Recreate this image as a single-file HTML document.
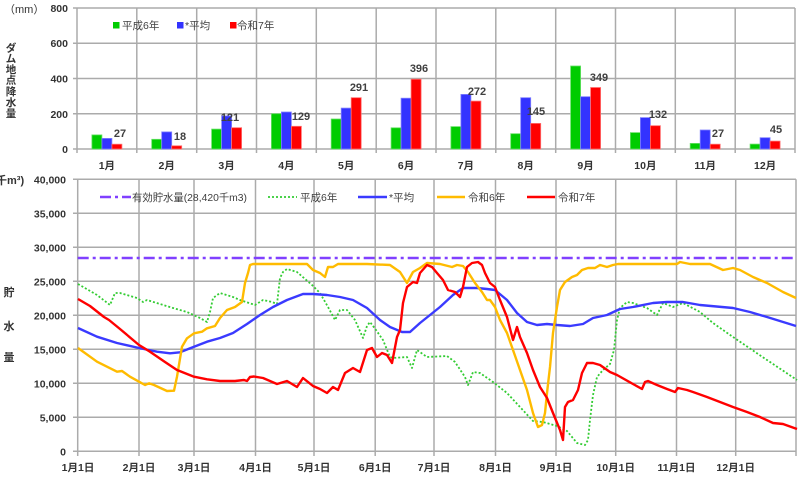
<!DOCTYPE html>
<html><head><meta charset="utf-8"><style>
html,body{margin:0;padding:0;background:#fff;}
svg{display:block;}
text{font-family:"Liberation Sans","Noto Sans CJK JP",sans-serif;}
.b{font-weight:bold;fill:#333;}
.lg{fill:#404040;font-size:10.5px;}
</style></head><body>
<svg width="800" height="477" viewBox="0 0 800 477" xmlns="http://www.w3.org/2000/svg">
<!-- ===== TOP BAR CHART ===== -->
<g stroke="#ABABAB" stroke-width="1.5" fill="none">
<line x1="73" y1="8" x2="795" y2="8"/>
<line x1="73" y1="43.25" x2="795" y2="43.25"/>
<line x1="73" y1="78.5" x2="795" y2="78.5"/>
<line x1="73" y1="113.75" x2="795" y2="113.75"/>
<line x1="73" y1="149" x2="795" y2="149"/>
<line x1="77" y1="8" x2="77" y2="153"/>
<line x1="136.8" y1="8" x2="136.8" y2="153"/>
<line x1="196.7" y1="8" x2="196.7" y2="153"/>
<line x1="256.5" y1="8" x2="256.5" y2="153"/>
<line x1="316.3" y1="8" x2="316.3" y2="153"/>
<line x1="376.2" y1="8" x2="376.2" y2="153"/>
<line x1="436" y1="8" x2="436" y2="153"/>
<line x1="495.8" y1="8" x2="495.8" y2="153"/>
<line x1="555.7" y1="8" x2="555.7" y2="153"/>
<line x1="615.5" y1="8" x2="615.5" y2="153"/>
<line x1="675.3" y1="8" x2="675.3" y2="153"/>
<line x1="735.2" y1="8" x2="735.2" y2="153"/>
<line x1="795" y1="8" x2="795" y2="153"/>
</g>
<!-- bars -->
<g stroke-width="0.8">
<g fill="#00CC00" stroke="#66E066">
<rect x="91.9" y="134.9" width="10" height="14.1"/>
<rect x="151.7" y="139.3" width="10" height="9.7"/>
<rect x="211.6" y="129.1" width="10" height="19.9"/>
<rect x="271.4" y="113.7" width="10" height="35.3"/>
<rect x="331.2" y="119" width="10" height="30"/>
<rect x="391.1" y="127.8" width="10" height="21.2"/>
<rect x="450.9" y="126.6" width="10" height="22.4"/>
<rect x="510.7" y="133.7" width="10" height="15.3"/>
<rect x="570.6" y="66" width="10" height="83"/>
<rect x="630.4" y="132.6" width="10" height="16.4"/>
<rect x="690.2" y="143.4" width="10" height="5.6"/>
<rect x="750.1" y="144.1" width="10" height="4.9"/>
</g>
<g fill="#3333FF" stroke="#8080FF">
<rect x="101.9" y="138.4" width="10" height="10.6"/>
<rect x="161.7" y="131.9" width="10" height="17.1"/>
<rect x="221.6" y="115.9" width="10" height="33.1"/>
<rect x="281.4" y="112" width="10" height="37"/>
<rect x="341.2" y="108.1" width="10" height="40.9"/>
<rect x="401.1" y="98.2" width="10" height="50.8"/>
<rect x="460.9" y="94.4" width="10" height="54.6"/>
<rect x="520.7" y="97.7" width="10" height="51.3"/>
<rect x="580.6" y="96.7" width="10" height="52.3"/>
<rect x="640.4" y="117.6" width="10" height="31.4"/>
<rect x="700.2" y="130" width="10" height="19"/>
<rect x="760.1" y="137.7" width="10" height="11.3"/>
</g>
<g fill="#FF0000" stroke="#FF7070">
<rect x="111.9" y="144.2" width="10" height="4.8"/>
<rect x="171.7" y="145.8" width="10" height="3.2"/>
<rect x="231.6" y="127.7" width="10" height="21.3"/>
<rect x="291.4" y="126.3" width="10" height="22.7"/>
<rect x="351.2" y="97.7" width="10" height="51.3"/>
<rect x="411.1" y="79.2" width="10" height="69.8"/>
<rect x="470.9" y="101.1" width="10" height="47.9"/>
<rect x="530.7" y="123.4" width="10" height="25.6"/>
<rect x="590.6" y="87.5" width="10" height="61.5"/>
<rect x="650.4" y="125.7" width="10" height="23.3"/>
<rect x="710.2" y="144.2" width="10" height="4.8"/>
<rect x="770.1" y="141.1" width="10" height="7.9"/>
</g>
</g>
<!-- data labels -->
<g class="b" font-size="11" text-anchor="middle" style="fill:#404040">
<text x="120" y="137">27</text>
<text x="180" y="140">18</text>
<text x="230" y="121">121</text>
<text x="301" y="120">129</text>
<text x="359" y="91">291</text>
<text x="419" y="72">396</text>
<text x="477" y="95">272</text>
<text x="536" y="115">145</text>
<text x="599" y="81">349</text>
<text x="658" y="118">132</text>
<text x="718" y="137">27</text>
<text x="776" y="133">45</text>
</g>
<!-- y labels top -->
<g class="b" font-size="10.5" text-anchor="end">
<text x="68" y="12">800</text>
<text x="68" y="47">600</text>
<text x="68" y="82.5">400</text>
<text x="68" y="118">200</text>
<text x="68" y="153">0</text>
</g>
<!-- month labels -->
<g class="b" font-size="10.5" text-anchor="middle">
<text x="106.9" y="169">1月</text>
<text x="166.7" y="169">2月</text>
<text x="226.6" y="169">3月</text>
<text x="286.4" y="169">4月</text>
<text x="346.2" y="169">5月</text>
<text x="406.1" y="169">6月</text>
<text x="465.9" y="169">7月</text>
<text x="525.7" y="169">8月</text>
<text x="585.6" y="169">9月</text>
<text x="645.4" y="169">10月</text>
<text x="705.2" y="169">11月</text>
<text x="765.1" y="169">12月</text>
</g>
<text x="4" y="13" font-size="11" fill="#333">（mm）</text>
<g class="b" font-size="10.5" text-anchor="middle">
<text x="11" y="51.5">ダ</text>
<text x="11" y="62">ム</text>
<text x="11" y="73">地</text>
<text x="11" y="83.5">点</text>
<text x="11" y="95">降</text>
<text x="11" y="106">水</text>
<text x="11" y="117">量</text>
</g>
<!-- top legend -->
<rect x="113" y="22" width="6.5" height="6.5" fill="#00CC00"/>
<text class="lg" x="122" y="29">平成6年</text>
<rect x="177" y="22" width="6.5" height="6.5" fill="#3333FF"/>
<text class="lg" x="185" y="29">*平均</text>
<rect x="230" y="22" width="6.5" height="6.5" fill="#FF0000"/>
<text class="lg" x="237" y="29">令和7年</text>

<!-- ===== BOTTOM LINE CHART ===== -->
<g stroke="#ABABAB" stroke-width="1.5" fill="none">
<line x1="73" y1="179.3" x2="796" y2="179.3"/>
<line x1="73" y1="213.3" x2="796" y2="213.3"/>
<line x1="73" y1="247.3" x2="796" y2="247.3"/>
<line x1="73" y1="281.3" x2="796" y2="281.3"/>
<line x1="73" y1="315.3" x2="796" y2="315.3"/>
<line x1="73" y1="349.3" x2="796" y2="349.3"/>
<line x1="73" y1="383.3" x2="796" y2="383.3"/>
<line x1="73" y1="417.3" x2="796" y2="417.3"/>
<line x1="73" y1="451.3" x2="796" y2="451.3"/>
<line x1="77.7" y1="179.3" x2="77.7" y2="456"/>
<line x1="139" y1="179.3" x2="139" y2="456"/>
<line x1="194" y1="179.3" x2="194" y2="456"/>
<line x1="255.5" y1="179.3" x2="255.5" y2="456"/>
<line x1="314" y1="179.3" x2="314" y2="456"/>
<line x1="375.2" y1="179.3" x2="375.2" y2="456"/>
<line x1="434" y1="179.3" x2="434" y2="456"/>
<line x1="495.5" y1="179.3" x2="495.5" y2="456"/>
<line x1="556" y1="179.3" x2="556" y2="456"/>
<line x1="615.7" y1="179.3" x2="615.7" y2="456"/>
<line x1="676.5" y1="179.3" x2="676.5" y2="456"/>
<line x1="735.7" y1="179.3" x2="735.7" y2="456"/>
<line x1="796" y1="179.3" x2="796" y2="456"/>
</g>
<!-- purple capacity line -->
<line x1="77.7" y1="258" x2="796" y2="258" stroke="#8040FF" stroke-width="2.5" stroke-dasharray="11,4,3,4"/>
<!-- green dotted 平成6年 -->
<polyline fill="none" stroke="#33CC33" stroke-width="1.8" stroke-dasharray="2,2" stroke-linejoin="round"
points="78,284 97,295 110,305 115,293 120,293 137,298 143,302 147,300 160,304 173,308 187,312 200,318 207,322 210,312 213,298 220,293 233,297 240,300 255,305 263,300 272,302 277,304 280,278 283,272 287,269 297,272 312,285 320,293 328,307 335,320 340,310 347,310 355,320 363,338 367,326 370,322 376,330 383,340 390,357 393,358 407,357 412,368 417,350 427,357 447,356 455,362 465,377 468,385 473,372 480,373 493,382 507,393 520,407 533,421 543,422 557,426 567,431 577,443 585,445 588,440 590,420 593,395 597,377 603,370 610,364 614,350 617,320 620,308 627,302 633,303 647,308 657,315 663,303 673,307 683,303 700,312 713,323 733,337 767,360 797,380"/>
<!-- blue 平均 -->
<polyline fill="none" stroke="#3A3AFF" stroke-width="2.4" stroke-linejoin="round"
points="78,328 97,336.7 117,343 139,348 157,351.7 170,353.3 180,352.3 194,346.7 207,341.7 220,338 233,333 247,324 260,315 273,307 287,300 303,294 313,294 327,295 340,297 353,300 367,308 380,320 390,327 402,332 410,332 420,323 430,315 440,307 453,295 463,288 477,288 487,289 495,290 507,300 517,313 527,322 537,325 547,324 557,325 570,326 583,324 593,318 607,315 620,309 633,307 653,303 667,302 683,302 700,305 733,308 750,312 767,317 796,326"/>
<!-- yellow 令和6年 -->
<polyline fill="none" stroke="#FFBB00" stroke-width="2.4" stroke-linejoin="round"
points="78,348 97,361.7 117,371.7 122,371 130,376.7 145,385 149,383.3 154,385 167,391 174,390.7 177,376.7 182,346.7 187,338.3 194,333.3 202,331.7 207,328.3 215,326 220,318 227,310 235,307 242,302 245,283 248,273 250,265 253,264 280,264 307,264 313,270 320,273 325,277 328,267 333,267 338,264 367,264 390,265 400,272 407,283 413,272 420,268 427,263 440,264 452,267 457,265 463,266 468,272 475,283 482,292 487,300 490,300 495,307 500,320 507,333 513,350 520,370 527,390 533,413 538,427 542,425 545,413 547,393 550,367 553,333 557,307 560,290 565,282 572,277 577,275 582,270 588,268 595,268 600,265 607,267 613,265 618,264 633,264 677,264 680,262 690,264 710,264 723,270 728,269 733,268 740,270 753,277 767,283 783,292 796,298"/>
<!-- red 令和7年 -->
<polyline fill="none" stroke="#FF0000" stroke-width="2.4" stroke-linejoin="round"
points="78,299 90,306 104,317 109,320 120,329 139,345 150,351.7 165,362 177,370 194,376.7 207,379.3 220,381 235,381 244,380 247,381 250,377 254,376.5 263,378 277,384 287,381 297,387 303,378 313,386 320,389 327,393 333,387 338,390 345,373 353,368 360,372 367,350 372,348 377,357 382,353 387,355 392,363 397,337 400,330 403,303 407,287 413,282 417,283 420,273 427,265 432,267 437,273 443,280 448,290 455,292 460,297 463,287 467,267 472,263 478,262 482,265 485,273 490,283 495,287 500,300 507,317 513,340 517,327 520,337 527,353 533,370 540,387 547,398 553,413 560,430 563,440 565,407 568,402 573,400 578,390 582,373 587,363 593,363 600,365 610,372 617,375 633,384 642,389 645,382 648,381 657,385 667,389 675,392 678,388 687,390 693,392 707,397 720,402 733,407 747,412 760,417 773,423 783,424 797,429"/>
<!-- y labels bottom -->
<g class="b" font-size="10.5" text-anchor="end">
<text x="66" y="183.3">40,000</text>
<text x="66" y="217.3">35,000</text>
<text x="66" y="251.3">30,000</text>
<text x="66" y="285.3">25,000</text>
<text x="66" y="319.3">20,000</text>
<text x="66" y="353.3">15,000</text>
<text x="66" y="387.3">10,000</text>
<text x="66" y="421.3">5,000</text>
<text x="66" y="455.3">0</text>
</g>
<text x="-4" y="184" font-size="11" class="b">千m³)</text>
<g class="b" font-size="11" text-anchor="middle">
<text x="9" y="296">貯</text>
<text x="9" y="330">水</text>
<text x="9" y="361">量</text>
</g>
<!-- x labels bottom -->
<g class="b" font-size="10.5" text-anchor="middle">
<text x="78" y="471">1月1日</text>
<text x="139" y="471">2月1日</text>
<text x="194" y="471">3月1日</text>
<text x="255.5" y="471">4月1日</text>
<text x="314" y="471">5月1日</text>
<text x="375.2" y="471">6月1日</text>
<text x="434" y="471">7月1日</text>
<text x="495.5" y="471">8月1日</text>
<text x="556" y="471">9月1日</text>
<text x="615.7" y="471">10月1日</text>
<text x="676.5" y="471">11月1日</text>
<text x="735.7" y="471">12月1日</text>
</g>
<!-- bottom legend -->
<line x1="100" y1="197" x2="131" y2="197" stroke="#8040FF" stroke-width="2.5" stroke-dasharray="11,4,3,4"/>
<text class="lg" x="132" y="201" textLength="115" lengthAdjust="spacingAndGlyphs">有効貯水量(28,420千m3)</text>
<line x1="268" y1="197" x2="297" y2="197" stroke="#33CC33" stroke-width="1.8" stroke-dasharray="2,2"/>
<text class="lg" x="300" y="201">平成6年</text>
<line x1="358" y1="197" x2="387" y2="197" stroke="#3A3AFF" stroke-width="2.4"/>
<text class="lg" x="389" y="201">*平均</text>
<line x1="437" y1="197" x2="465" y2="197" stroke="#FFBB00" stroke-width="2.4"/>
<text class="lg" x="468" y="201">令和6年</text>
<line x1="527" y1="197" x2="555" y2="197" stroke="#FF0000" stroke-width="2.4"/>
<text class="lg" x="558" y="201">令和7年</text>
</svg>
</body></html>
